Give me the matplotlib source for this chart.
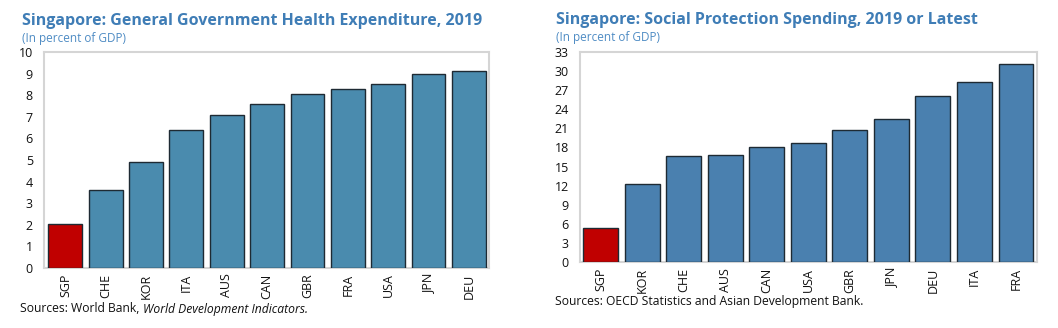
import matplotlib
matplotlib.use("Agg")
import matplotlib.pyplot as plt

plt.rcParams['font.family'] = ['Open Sans', 'DejaVu Sans']

# Left chart data
health_countries = ["SGP", "CHE", "KOR", "ITA", "AUS", "CAN", "GBR", "FRA", "USA", "JPN", "DEU"]
health_values = [2.05, 3.6, 4.9, 6.4, 7.1, 7.6, 8.05, 8.3, 8.5, 9.0, 9.1]
health_yticks = [0, 1, 2, 3, 4, 5, 6, 7, 8, 9, 10]

# Right chart data
social_countries = ["SGP", "KOR", "CHE", "AUS", "CAN", "USA", "GBR", "JPN", "DEU", "ITA", "FRA"]
social_values = [5.3, 12.2, 16.7, 16.8, 18.0, 18.7, 20.7, 22.4, 26.0, 28.3, 31.1]
social_yticks = [0, 3, 6, 9, 12, 15, 18, 21, 24, 27, 30, 33]

TITLE_C = "#3F7DB6"
SUB_C = "#4F8CC4"
RED = "#C00000"
BLUE_L = "#4A8BAE"
BLUE_R = "#4A80AF"
SPINE = "#D5D5D5"

fig = plt.figure(figsize=(10.58, 3.28), dpi=100)

def draw(ax, cats, vals, yticks, base_color, xlim):
    colors = [RED if c == "SGP" else base_color for c in cats]
    ax.bar(range(len(cats)), vals, width=0.84, color=colors,
           edgecolor="#1E2A33", linewidth=1.0, zorder=3)
    ax.set_xlim(*xlim)
    ax.set_ylim(yticks[0], yticks[-1])
    ax.set_yticks(yticks)
    ax.set_yticklabels([str(t) for t in yticks], fontsize=9, color="#111111")
    ax.set_xticks(range(len(cats)))
    ax.set_xticklabels(cats, rotation=90, fontsize=9, color="#111111")
    ax.tick_params(axis="both", length=0, pad=4)
    ax.tick_params(axis="y", pad=8)
    for s in ax.spines.values():
        s.set_color(SPINE)
        s.set_linewidth(1.5)

ax1 = fig.add_axes([44/1058, 1-268/328, 445/1058, 216/328])
draw(ax1, health_countries, health_values, health_yticks, BLUE_L, (-0.53, 10.5))

ax2 = fig.add_axes([580/1058, 1-262.3/328, 456.7/1058, 210.6/328])
draw(ax2, social_countries, social_values, social_yticks, BLUE_R, (-0.5, 10.5))

fig.text(22/1058, 1-21/328, "Singapore: General Government Health Expenditure, 2019",
         fontsize=11.5, fontweight="bold", color=TITLE_C, va="center", ha="left")
fig.text(22/1058, 1-38.5/328, "(In percent of GDP)", fontsize=8.5, color=SUB_C,
         va="center", ha="left")
fig.text(556/1058, 1-20/328, "Singapore: Social Protection Spending, 2019 or Latest",
         fontsize=11.5, fontweight="bold", color=TITLE_C, va="center", ha="left")
fig.text(556/1058, 1-37/328, "(In percent of GDP)", fontsize=8.5, color=SUB_C,
         va="center", ha="left")

SRC_FS = 8.75
t = fig.text(20/1058, 1-309/328, "Sources: World Bank,", fontsize=SRC_FS, color="#111111",
             va="center", ha="left")
fig.canvas.draw()
bb = t.get_window_extent()
x_it = (bb.x1 + 3.5) / fig.bbox.width
fig.text(x_it, 1-309/328, "World Development Indicators.", fontsize=SRC_FS, style="italic",
         color="#111111", va="center", ha="left")

fig.text(555/1058, 1-301/328, "Sources: OECD Statistics and Asian Development Bank.",
         fontsize=SRC_FS, color="#111111", va="center", ha="left")

fig.savefig("out.png", dpi=100)
